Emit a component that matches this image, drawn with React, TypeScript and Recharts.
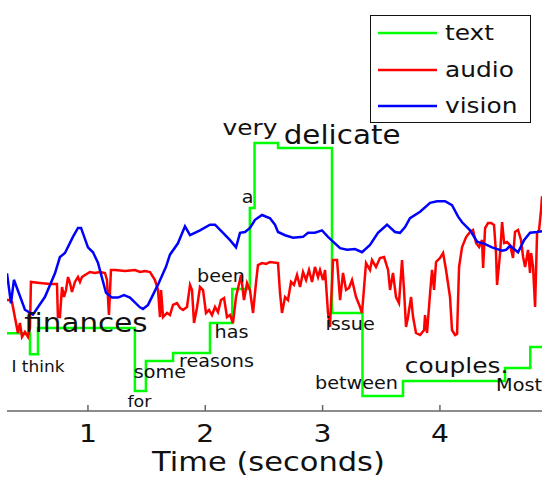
import { LineChart, Line, XAxis, YAxis, Legend, ReferenceDot } from 'recharts';

// time axis (seconds) and value axis ranges
const X_DOMAIN = [0.31, 4.87];
const X_TICKS = [1, 2, 3, 4];
const Y_TICKS = [0, 1, 2, 3, 4, 5];
const LEGEND_ORDER = ['text', 'audio', 'vision'];

// text modality: step levels [time, value]
const TEXT_STEPS = [
    [0.31, 0.96], [0.506, 0.7], [0.574, 1.025], [1.4, 0.247], [1.494, 0.617],
    [1.725, 0.716], [2.04, 1.086], [2.23, 1.506], [2.38, 2.506], [2.42, 3.309],
    [2.62, 3.247], [3.08, 1.21], [3.34, 0.185], [3.685, 0.37], [4.555, 0.53],
    [4.77, 0.79], [4.87, 0.79],
];

// audio modality [time, value]
const AUDIO_POINTS = [
    [0.31, 1.37], [0.327, 1.37], [0.352, 1.35], [0.403, 0.963], [0.42, 1.086], [0.438, 0.914],
    [0.463, 0.975], [0.489, 0.914], [0.506, 1.025], [0.514, 1.593], [0.591, 1.58], [0.676, 1.568],
    [0.736, 1.568], [0.744, 1.16], [0.761, 1.16], [0.779, 1.531], [0.796, 1.407], [0.813, 1.494],
    [0.83, 1.654], [0.847, 1.58], [0.864, 1.469], [0.889, 1.593], [0.915, 1.654], [0.932, 1.593],
    [0.949, 1.654], [0.975, 1.679], [1.017, 1.716], [1.06, 1.704], [1.103, 1.716], [1.145, 1.704],
    [1.162, 1.617], [1.179, 1.185], [1.196, 1.741], [1.23, 1.741], [1.316, 1.728], [1.401, 1.741],
    [1.444, 1.716], [1.486, 1.728], [1.529, 1.716], [1.571, 1.617], [1.597, 1.494], [1.614, 1.16],
    [1.623, 1.494], [1.64, 1.16], [1.674, 1.21], [1.699, 1.185], [1.725, 1.309], [1.759, 1.333],
    [1.785, 1.272], [1.81, 1.247], [1.844, 1.284], [1.87, 1.556], [1.887, 1.494], [1.904, 1.086],
    [1.929, 1.272], [1.955, 1.531], [1.981, 1.494], [2.006, 1.21], [2.032, 1.247], [2.057, 1.185],
    [2.083, 1.284], [2.108, 1.22], [2.134, 1.37], [2.16, 1.395], [2.185, 1.16], [2.211, 1.185],
    [2.236, 1.086], [2.262, 1.407], [2.305, 1.679], [2.33, 1.37], [2.356, 1.58], [2.381, 1.494],
    [2.407, 1.21], [2.432, 1.58], [2.449, 1.802], [2.484, 1.827], [2.518, 1.815], [2.552, 1.84],
    [2.62, 1.827], [2.637, 1.457], [2.654, 1.21], [2.68, 1.407], [2.705, 1.37], [2.731, 1.593],
    [2.756, 1.556], [2.782, 1.679], [2.808, 1.531], [2.833, 1.716], [2.859, 1.617], [2.884, 1.741],
    [2.91, 1.593], [2.935, 1.778], [2.961, 1.654], [2.978, 1.741], [3.004, 1.617], [3.021, 1.741],
    [3.046, 1.21], [3.063, 1.037], [3.089, 1.864], [3.123, 1.864], [3.149, 1.37], [3.174, 1.704],
    [3.2, 1.494], [3.225, 1.519], [3.251, 1.617], [3.285, 1.407], [3.319, 1.284], [3.336, 1.21],
    [3.37, 1.827], [3.404, 1.741], [3.421, 1.864], [3.455, 1.778], [3.489, 1.889], [3.524, 1.901],
    [3.558, 1.741], [3.575, 1.494], [3.6, 1.704], [3.626, 1.407], [3.651, 1.333], [3.677, 1.864],
    [3.694, 1.494], [3.711, 1.037], [3.728, 1.16], [3.754, 1.407], [3.771, 1.16], [3.796, 0.963],
    [3.831, 0.938], [3.865, 1.0], [3.873, 1.185], [3.89, 0.963], [3.916, 1.457], [3.933, 1.741],
    [3.95, 1.494], [3.967, 1.84], [4.001, 1.889], [4.027, 1.951], [4.052, 1.741], [4.086, 1.407],
    [4.103, 1.0], [4.129, 0.938], [4.146, 0.95], [4.163, 1.778], [4.189, 2.025], [4.223, 2.148],
    [4.257, 2.21], [4.282, 2.235], [4.308, 2.074], [4.334, 2.025], [4.359, 2.111], [4.368, 1.765],
    [4.385, 2.259], [4.41, 2.321], [4.436, 2.321], [4.461, 2.296], [4.478, 1.951], [4.487, 1.556],
    [4.513, 1.951], [4.53, 2.333], [4.547, 2.074], [4.572, 2.086], [4.598, 2.049], [4.623, 1.889],
    [4.64, 2.21], [4.666, 2.235], [4.691, 2.111], [4.709, 1.901], [4.726, 1.778], [4.751, 1.988],
    [4.768, 1.704], [4.777, 1.951], [4.794, 1.778], [4.811, 1.284], [4.828, 2.198], [4.845, 2.235],
    [4.862, 2.481], [4.87, 2.65],
];

// vision modality [time, value]
const VISION_POINTS = [
    [0.31, 1.7], [0.344, 1.33], [0.369, 1.62], [0.463, 1.25], [0.531, 1.19], [0.634, 1.41],
    [0.719, 1.7], [0.761, 1.9], [0.804, 1.95], [0.872, 2.15], [0.915, 2.26], [0.941, 2.26],
    [1.0, 2.02], [1.043, 1.96], [1.085, 1.83], [1.154, 1.46], [1.205, 1.4], [1.256, 1.4],
    [1.307, 1.43], [1.358, 1.4], [1.443, 1.28], [1.469, 1.26], [1.512, 1.31], [1.597, 1.56],
    [1.665, 1.78], [1.699, 1.93], [1.767, 2.07], [1.827, 2.28], [1.87, 2.17], [1.955, 2.23],
    [2.04, 2.3], [2.083, 2.3], [2.143, 2.21], [2.211, 2.11], [2.262, 2.02], [2.296, 2.2],
    [2.339, 2.21], [2.381, 2.26], [2.424, 2.36], [2.484, 2.42], [2.552, 2.38], [2.594, 2.3],
    [2.62, 2.21], [2.68, 2.17], [2.748, 2.14], [2.833, 2.15], [2.876, 2.2], [2.935, 2.2],
    [2.995, 2.23], [3.046, 2.15], [3.089, 2.09], [3.149, 2.01], [3.208, 1.99], [3.276, 2.0],
    [3.336, 1.96], [3.404, 2.05], [3.472, 2.2], [3.549, 2.3], [3.617, 2.21], [3.66, 2.2],
    [3.703, 2.27], [3.745, 2.38], [3.831, 2.46], [3.916, 2.57], [3.976, 2.59], [4.044, 2.59],
    [4.103, 2.54], [4.155, 2.4], [4.189, 2.33], [4.257, 2.23], [4.317, 2.09], [4.385, 2.06],
    [4.444, 2.02], [4.53, 1.98], [4.564, 1.99], [4.598, 2.04], [4.666, 1.96], [4.717, 2.11],
    [4.768, 2.2], [4.828, 2.21], [4.87, 2.22],
];

// spoken words: [word, time of centre, value of baseline, font size]
const WORDS: [string, number, number, number][] = [
    ['I think', 0.574, 0.481, 15],
    ['finances', 0.983, 0.975, 26],
    ['for', 1.439, 0.049, 15.5],
    ['some', 1.614, 0.407, 17],
    ['reasons', 2.096, 0.543, 17],
    ['has', 2.224, 0.9, 17],
    ['been', 2.134, 1.593, 17],
    ['a', 2.36, 2.568, 17],
    ['very', 2.381, 3.407, 22],
    ['delicate', 3.166, 3.296, 26],
    ['issue', 3.234, 1.0, 17],
    ['between', 3.289, 0.272, 17],
    ['couples.', 4.142, 0.469, 22],
    ['Most', 4.674, 0.247, 17],
];

const toPoints = (arr: number[][]) => arr.map(([t, v]) => ({ t, v }));

const STRETCH = 1.13;

const wordShape = (word: string, size: number) => (p: any) => (
    <text
        transform={`translate(${p.cx},${p.cy}) scale(${STRETCH},1)`}
        textAnchor="middle"
        fontSize={size}
        fill="#111"
    >
        {word}
    </text>
);

const XTick = (p: any) => (
    <text transform={`translate(${p.x},${p.y}) scale(${STRETCH},1)`} textAnchor="middle" fontSize={25} fill="#111">
        {p.payload.value}
    </text>
);

const AxisTitle = (p: any) => {
    const vb = p.viewBox;
    return (
        <text
            transform={`translate(${vb.x + vb.width / 2 - 6},${vb.y + vb.height - 6}) scale(${STRETCH},1)`}
            textAnchor="middle"
            fontSize={27}
            fill="#111"
        >
            {p.value}
        </text>
    );
};

const renderLegend = (props: any) => {
    const payload = [...(props.payload || [])].sort(
        (a: any, b: any) => LEGEND_ORDER.indexOf(a.value) - LEGEND_ORDER.indexOf(b.value)
    );
    return (
        <div style={{ width: 161, height: 108, border: '1.5px solid #111', background: '#fff', position: 'relative', boxSizing: 'border-box' }}>
            {payload.map((entry: any, i: number) => (
                <div key={entry.value} style={{ position: 'absolute', left: 7, top: 2 + i * 36.5, height: 30, display: 'flex', alignItems: 'center' }}>
                    <svg width={59} height={4} style={{ display: 'block' }}>
                        <line x1={0} y1={2} x2={59} y2={2} stroke={entry.color} strokeWidth={2.5} />
                    </svg>
                    <span style={{ marginLeft: 8, fontSize: 22, display: 'inline-block', transform: `scaleX(${STRETCH})`, transformOrigin: 'left center', color: '#111', lineHeight: '30px' }}>
                        {entry.value}
                    </span>
                </div>
            ))}
        </div>
    );
};

export default function App() {
    return (
        <div style={{ position: 'absolute', left: 0, top: 0, fontFamily: '"DejaVu Sans", sans-serif', background: '#fff' }}>
            <LineChart width={542} height={477} margin={{ top: 6, right: 0, bottom: 0, left: 7 }}>
                <XAxis
                    type="number"
                    dataKey="t"
                    domain={X_DOMAIN}
                    ticks={X_TICKS}
                    allowDataOverflow
                    height={66}
                    tickSize={-6}
                    tickMargin={37}
                    tick={<XTick />}
                    stroke="#666"
                    strokeWidth={1.5}
                    label={{ value: 'Time (seconds)', content: <AxisTitle /> }}
                />
                <XAxis
                    xAxisId="top"
                    orientation="top"
                    type="number"
                    domain={X_DOMAIN}
                    ticks={X_TICKS}
                    allowDataOverflow
                    height={0}
                    tickSize={-6}
                    tick={false}
                    stroke="#111"
                    strokeWidth={1.5}
                />
                <YAxis
                    type="number"
                    domain={[0, 5]}
                    ticks={Y_TICKS}
                    width={0}
                    tickSize={-6}
                    tick={false}
                    stroke="#666"
                    strokeWidth={1.5}
                />
                <YAxis
                    yAxisId="right"
                    orientation="right"
                    type="number"
                    domain={[0, 5]}
                    ticks={Y_TICKS}
                    width={0}
                    tickSize={-6}
                    tick={false}
                    stroke="#111"
                />
                <Line data={toPoints(TEXT_STEPS)} dataKey="v" name="text" type="stepAfter" stroke="#00ff00" strokeWidth={2.5} dot={false} isAnimationActive={false} />
                <Line data={toPoints(AUDIO_POINTS)} dataKey="v" name="audio" type="linear" stroke="#ff0000" strokeWidth={2.5} dot={false} isAnimationActive={false} />
                <Line data={toPoints(VISION_POINTS)} dataKey="v" name="vision" type="linear" stroke="#0000ff" strokeWidth={2.5} dot={false} isAnimationActive={false} />
                {WORDS.map(([word, t, v, size]) => (
                    <ReferenceDot key={word} x={t} y={v} r={0} ifOverflow="visible" shape={wordShape(word, size)} />
                ))}
                <Legend
                    layout="vertical"
                    align="center"
                    verticalAlign="middle"
                    wrapperStyle={{ left: 370, top: 15, width: 161, height: 108 }}
                    content={renderLegend}
                />
            </LineChart>
        </div>
    );
}
